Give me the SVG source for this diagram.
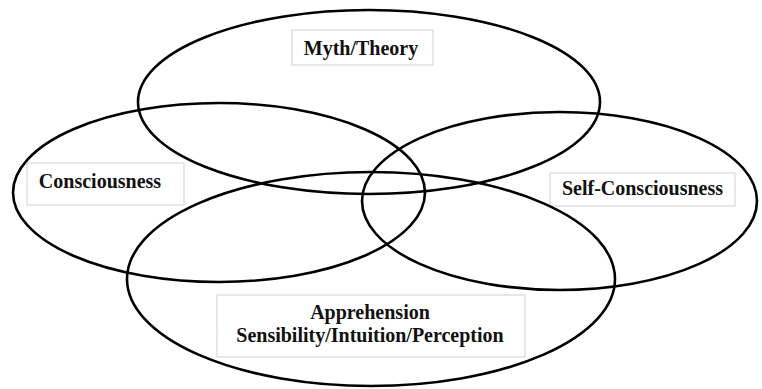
<svg xmlns="http://www.w3.org/2000/svg" width="762" height="389" viewBox="0 0 762 389">
<style>
.ell{fill:none;stroke:#000;stroke-width:2.6}
.box{fill:#fff;stroke:#d0d0d0;stroke-width:1}
.lbl{font-family:"Liberation Serif","Times New Roman",serif;font-weight:bold;font-size:20px;fill:#111;text-anchor:middle}
</style>
<rect width="762" height="389" fill="#fff"/>
<g id="myth">
<ellipse class="ell" cx="369" cy="102" rx="231" ry="92"/>
<rect class="box" x="292" y="30" width="141" height="35"/>
<text class="lbl" x="361" y="55">Myth/Theory</text>
</g>
<g id="consciousness">
<ellipse class="ell" cx="219" cy="192.5" rx="206" ry="89.5"/>
<rect class="box" x="27" y="163" width="157" height="42"/>
<text class="lbl" x="100" y="188">Consciousness</text>
</g>
<g id="self-consciousness">
<ellipse class="ell" cx="559.5" cy="201" rx="197.5" ry="89"/>
<rect class="box" x="550" y="173" width="185" height="33"/>
<text class="lbl" x="642.5" y="195">Self-Consciousness</text>
</g>
<g id="apprehension">
<ellipse class="ell" cx="371" cy="279" rx="244" ry="107"/>
<rect class="box" x="217" y="295" width="308" height="62"/>
<text class="lbl" x="370" y="319">Apprehension</text>
<text class="lbl" x="370" y="342">Sensibility/Intuition/Perception</text>
</g>
<g id="connectors"></g>
</svg>
